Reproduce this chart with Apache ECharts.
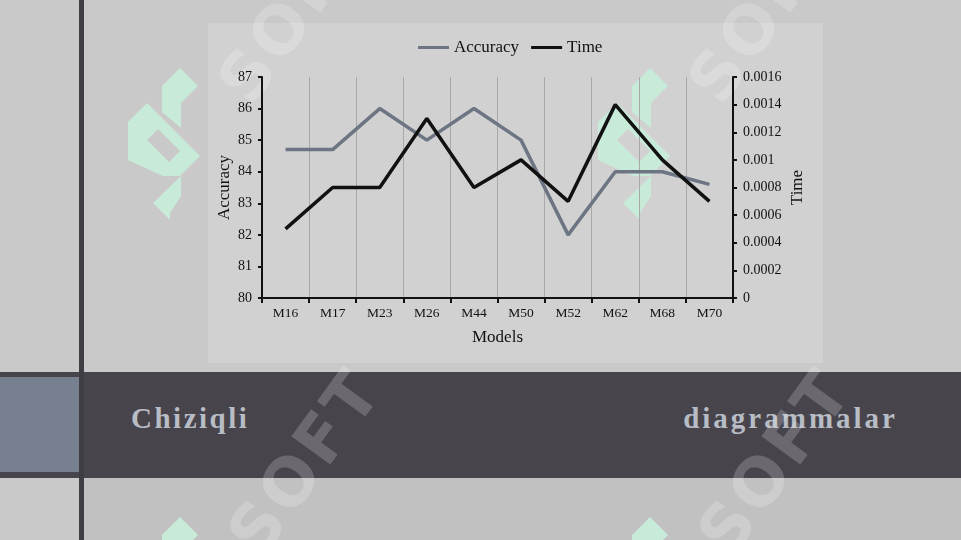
<!DOCTYPE html>
<html>
<head>
<meta charset="utf-8">
<script src="https://cdn.jsdelivr.net/npm/echarts@6/dist/echarts.min.js"></script>
<style>
html,body{margin:0;padding:0;width:961px;height:540px;overflow:hidden;background:#c9c9c9;font-family:"Liberation Serif",serif;}
#slide{position:absolute;left:0;top:0;width:961px;height:540px;}
.vline{position:absolute;left:79px;top:0;width:5px;height:540px;background:#3f3e45;}
.lower{position:absolute;left:84px;top:478px;width:877px;height:62px;background:#c1c1c1;}
.box{position:absolute;left:208px;top:23px;width:615px;height:340px;background:#d1d1d1;}
.band{position:absolute;left:0;top:372px;width:961px;height:106px;background:#47444c;}
.sq{position:absolute;left:0;top:377px;width:79px;height:95px;background:#77808f;}
.t{position:absolute;top:400px;font:bold 29px "Liberation Serif",serif;letter-spacing:2.5px;color:#b8bcc5;line-height:36px;white-space:nowrap;}
.wm{position:absolute;font:bold 66px "DejaVu Sans",sans-serif;letter-spacing:4px;color:rgba(255,255,255,0.2);transform:translate(-50%,-50%) rotate(-54deg);white-space:nowrap;line-height:66px;}
svg.logo{position:absolute;left:0;top:0;}
#chart{position:absolute;left:0;top:0;width:961px;height:540px;}
</style>
</head>
<body>
<div id="slide">
  <div class="lower"></div>
  <div class="box"></div>
  <div class="band"></div>
  <div class="sq"></div>
  <div class="vline"></div>
  <svg class="logo" width="961" height="540">
    <defs>
      <g id="lg">
        <path fill-rule="evenodd" d="M128,122 L147,103 L200,156 L180,176 L163,176 L128,160 Z M147,140 L158,129 L180,151 L169,162 Z"/>
        <path d="M162,86 L180,68 L198,86 L181,103 L181,128 L162,112 Z"/>
        <path d="M153,203 L181,176 L181,196 L170,213 L170,220 Z"/>
      </g>
    </defs>
    <g fill="#c8ebd9">
      <use href="#lg"/>
      <use href="#lg" transform="translate(470,0)"/>
      <use href="#lg" transform="translate(0,449)"/>
      <use href="#lg" transform="translate(470,449)"/>
    </g>
  </svg>
  <div class="t" style="left:131px;">Chiziqli</div>
  <div class="t" style="right:63px;letter-spacing:3px;">diagrammalar</div>
  <div class="wm" style="left:295px;top:10px;">SOFT</div>
  <div class="wm" style="left:765px;top:10px;">SOFT</div>
  <div class="wm" style="left:305px;top:462px;">SOFT</div>
  <div class="wm" style="left:775px;top:462px;">SOFT</div>
</div>
<div id="chart"></div>
<script>
const categories = ["M16","M17","M23","M26","M44","M50","M52","M62","M68","M70"];
const accuracy = [84.7, 84.7, 86, 85, 86, 85, 82, 84, 84, 83.6];
const time = [0.0005, 0.0008, 0.0008, 0.0013, 0.0008, 0.001, 0.0007, 0.0014, 0.001, 0.0007];
const accuracyTicks = [80, 81, 82, 83, 84, 85, 86, 87];
const timeTicks = ["0", "0.0002", "0.0004", "0.0006", "0.0008", "0.001", "0.0012", "0.0014", "0.0016"];

const font = '"Liberation Serif", "Times New Roman", serif';
const chart = echarts.init(document.getElementById('chart'), null, {renderer: 'canvas'});
chart.setOption({
  backgroundColor: 'transparent',
  animation: false,
  textStyle: {fontFamily: font},
  legend: {
    left: 413, top: 34,
    icon: 'rect', itemWidth: 31, itemHeight: 3, itemGap: 12,
    textStyle: {fontFamily: font, fontSize: 17, color: '#111'},
    data: ['Accuracy', 'Time']
  },
  grid: {left: 262, right: 228, top: 77, bottom: 242},
  xAxis: {
    type: 'category', data: categories, boundaryGap: true,
    name: 'Models', nameLocation: 'middle', nameGap: 31,
    nameTextStyle: {fontFamily: font, fontSize: 17, color: '#111'},
    axisLine: {lineStyle: {color: '#111', width: 2}},
    axisTick: {show: true, length: 5, lineStyle: {color: '#111', width: 2}},
    axisLabel: {fontFamily: font, fontSize: 13.5, color: '#111', margin: 8},
    splitLine: {show: true, lineStyle: {color: '#a9a9a9', width: 1}}
  },
  yAxis: [{
    type: 'value', min: 80, max: 87, interval: 1,
    name: 'Accuracy', nameLocation: 'middle', nameGap: 29, nameRotate: 90,
    nameTextStyle: {fontFamily: font, fontSize: 17, color: '#111'},
    axisLine: {show: true, lineStyle: {color: '#111', width: 2}},
    axisTick: {show: true, length: 4, lineStyle: {color: '#111', width: 2}},
    axisLabel: {fontFamily: font, fontSize: 14, color: '#111', margin: 10,
      formatter: v => String(accuracyTicks[Math.round(v - 80)])},
    splitLine: {show: false}
  }, {
    type: 'value', min: 0, max: 0.0016, interval: 0.0002, position: 'right',
    name: 'Time', nameLocation: 'middle', nameGap: 56, nameRotate: 90,
    nameTextStyle: {fontFamily: font, fontSize: 17, color: '#111'},
    axisLine: {show: true, lineStyle: {color: '#111', width: 2}},
    axisTick: {show: true, length: 4, lineStyle: {color: '#111', width: 2}},
    axisLabel: {fontFamily: font, fontSize: 14, color: '#111', margin: 10,
      formatter: v => timeTicks[Math.round(v / 0.0002)]},
    splitLine: {show: false}
  }],
  series: [{
    name: 'Accuracy', type: 'line', data: accuracy, yAxisIndex: 0,
    symbol: 'none', color: '#6d7583',
    lineStyle: {color: '#6d7583', width: 3.5}
  }, {
    name: 'Time', type: 'line', data: time, yAxisIndex: 1,
    symbol: 'none', color: '#111111',
    lineStyle: {color: '#111111', width: 3.5}
  }]
});
</script>
</body>
</html>
